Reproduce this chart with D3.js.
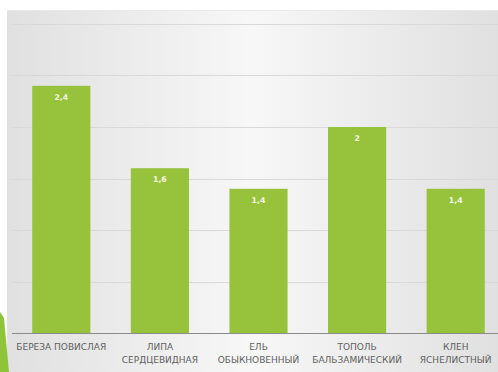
<!DOCTYPE html>
<html>
<head>
<meta charset="utf-8">
<script src="https://cdn.jsdelivr.net/npm/d3@7"></script>
<style>
	html, body { margin: 0; padding: 0; background: #fff; }
	svg { display: block; font-family: 'DejaVu Sans', sans-serif; }
	.cat { fill: #606060; font-size: 9px; }
	.val { fill: #f4f9e6; font-size: 7.8px; font-weight: bold; }
</style>
</head>
<body>
<svg id="chart" width="498" height="372"></svg>
<script>
const species = [
	['БЕРЕЗА ПОВИСЛАЯ'],
	['ЛИПА', 'СЕРДЦЕВИДНАЯ'],
	['ЕЛЬ', 'ОБЫКНОВЕННЫЙ'],
	['ТОПОЛЬ', 'БАЛЬЗАМИЧЕСКИЙ'],
	['КЛЕН', 'ЯСНЕЛИСТНЫЙ']
]
const values = [2.4, 1.6, 1.4, 2, 1.4]
const gridTicks = [0.5, 1, 1.5, 2, 2.5, 3]

const chartW = 498
const chartH = 372
const plotLeft = 12
const plotRight = 505
const plotBase = 333
const plotTop = 24

const svg = d3.select('#chart')

// panel background
const defs = svg.append('defs')
const grad = defs.append('linearGradient').attr('id', 'bg')
grad.append('stop').attr('offset', '0%').attr('stop-color', '#e0e0e0')
grad.append('stop').attr('offset', '50%').attr('stop-color', '#f7f7f7')
grad.append('stop').attr('offset', '100%').attr('stop-color', '#e0e0e0')

svg.append('rect')
	.attr('x', 7).attr('y', 10)
	.attr('width', chartW - 7).attr('height', chartH - 10)
	.attr('fill', 'url(#bg)')
svg.append('line')
	.attr('x1', 7).attr('x2', chartW).attr('y1', 10.5).attr('y2', 10.5)
	.attr('stroke', '#e9e9e9')

const x = d3.scaleBand()
	.domain(d3.range(values.length))
	.range([plotLeft, plotRight])
	.paddingInner(0.41)
	.paddingOuter(0.205)

const y = d3.scaleLinear().domain([0, 3]).range([plotBase, plotTop])

svg.append('g').selectAll('line').data(gridTicks).enter()
	.append('line')
	.attr('x1', plotLeft).attr('x2', chartW)
	.attr('y1', d => Math.round(y(d)) + 0.5)
	.attr('y2', d => Math.round(y(d)) + 0.5)
	.attr('stroke', '#d9d9d9')

svg.append('g').selectAll('rect').data(values).enter()
	.append('rect')
	.attr('x', (d, i) => x(i))
	.attr('y', d => y(d))
	.attr('width', x.bandwidth())
	.attr('height', d => plotBase - y(d))
	.attr('fill', '#97c33c')

svg.append('g').selectAll('text').data(values).enter()
	.append('text')
	.attr('class', 'val')
	.attr('x', (d, i) => x(i) + x.bandwidth() / 2)
	.attr('y', d => y(d) + 14)
	.attr('text-anchor', 'middle')
	.text(d => String(d).replace('.', ','))

// axis baseline
svg.append('line')
	.attr('x1', plotLeft).attr('x2', chartW)
	.attr('y1', plotBase + 0.5).attr('y2', plotBase + 0.5)
	.attr('stroke', '#8a8a8a')

const cats = svg.append('g').selectAll('text').data(species).enter()
	.append('text')
	.attr('class', 'cat')
	.attr('text-anchor', 'middle')
	.attr('x', (d, i) => x(i) + x.bandwidth() / 2)
	.attr('y', 350)
cats.selectAll('tspan').data(d => d).enter()
	.append('tspan')
	.attr('x', function() { return this.parentNode.getAttribute('x') })
	.attr('dy', (d, i) => i ? 13 : 0)
	.text(d => d)

// green corner decoration
svg.append('path')
	.attr('d', 'M0,312 L4,318 L9,372 L0,372 Z')
	.attr('fill', '#8fc43a')
</script>
</body>
</html>
